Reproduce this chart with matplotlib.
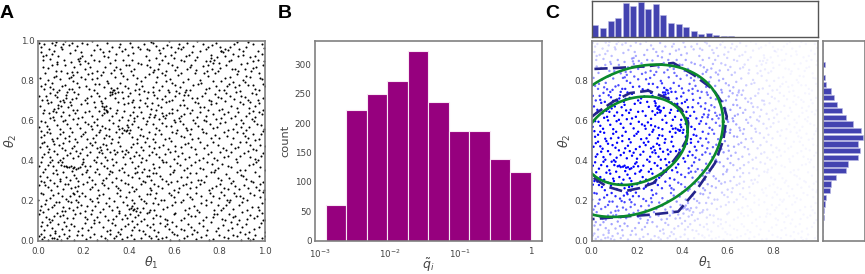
import numpy as np
import matplotlib
matplotlib.use("Agg")
import matplotlib.pyplot as plt

# sampled parameter points, estimated from panel A (theta1, theta2 in thousandths)
theta_pairs = [
    5,990, 25,985, 62,992, 75,978, 110,985, 118,998, 150,990, 172,975, 195,992, 215,985, 240,998, 262,978, 302,990,
    325,972, 362,985, 405,992, 412,970, 465,985, 500,995, 520,975, 578,998, 552,965, 620,985, 640,972, 702,998,
    725,985, 748,968, 785,990, 800,970, 838,955, 862,985, 885,962, 925,995, 985,985, 995,965, 615,965, 450,958,
    12,945, 35,930, 70,950, 88,925, 105,958, 140,940, 185,915, 190,945, 208,900, 232,930, 245,905, 285,945, 310,918,
    345,935, 372,952, 375,905, 420,938, 475,925, 490,905, 538,940, 558,925, 598,915, 603,945, 665,930, 690,905,
    760,928, 790,918, 815,945, 840,902, 858,935, 880,925, 935,918, 948,900, 985,935, 970,905, 20,905, 642,900,
    22,872, 60,880, 78,850, 82,895, 120,880, 150,845, 160,868, 205,860, 220,888, 260,850, 318,890, 335,855, 345,870,
    400,880, 425,860, 480,878, 510,855, 535,885, 565,852, 590,880, 612,870, 655,862, 675,882, 728,875, 745,850,
    770,890, 802,865, 828,880, 870,858, 895,885, 912,860, 940,850, 960,870, 992,880, 440,892, 295,868,
    8,815, 30,840, 45,805, 80,825, 95,812, 128,838, 155,800, 188,822, 222,835, 240,808, 276,830, 305,800, 340,818,
    365,840, 392,810, 420,828, 452,802, 490,835, 525,818, 548,842, 580,810, 618,830, 660,812, 692,838, 712,805,
    750,825, 780,840, 805,800, 845,818, 878,835, 905,805, 935,822, 975,838, 988,812, 238,842, 470,818,
    15,775, 28,760, 62,790, 92,755, 118,778, 148,760, 170,790, 210,772, 248,755, 270,785, 320,765, 335,752, 352,745,
    385,775, 398,762, 432,785, 468,750, 505,770, 535,752, 592,788, 625,768, 650,752, 682,778, 718,790, 755,762,
    785,775, 818,755, 842,785, 868,770, 890,750, 925,778, 958,760, 990,785, 572,755, 445,760, 310,788,
    5,725, 38,705, 52,740, 85,718, 112,702, 125,728, 150,710, 178,735, 205,702, 232,722, 262,740, 295,712, 326,732,
    338,715, 370,745, 395,722, 420,705, 445,735, 478,715, 512,730, 548,708, 575,742, 605,722, 638,705, 662,730,
    702,712, 735,738, 760,700, 795,720, 830,740, 862,708, 895,725, 925,705, 960,735, 990,715, 128,745,
    10,672, 42,690, 72,660, 90,680, 115,695, 132,668, 145,680, 172,655, 215,690, 252,670, 282,688, 290,660, 298,672,
    305,650, 318,665, 350,655, 378,685, 412,695, 445,668, 470,688, 500,660, 528,678, 565,692, 590,660, 625,680,
    655,665, 690,695, 712,670, 748,655, 785,688, 812,660, 850,675, 890,695, 928,665, 948,650, 975,688,
    22,640, 55,615, 65,650, 100,625, 120,605, 165,640, 195,620, 225,648, 262,610, 280,630, 312,605, 345,640, 368,620,
    395,605, 418,645, 435,625, 462,612, 495,632, 515,630, 545,640, 560,612, 598,605, 632,625, 668,640, 700,618,
    730,605, 772,635, 805,615, 835,645, 868,625, 895,605, 930,640, 955,618, 985,632, 78,645, 380,650,
    4,570, 30,595, 50,560, 82,580, 110,598, 140,565, 172,585, 208,595, 238,560, 262,578, 280,572, 295,565, 330,590,
    358,560, 392,580, 425,598, 440,570, 475,585, 520,565, 548,590, 585,575, 612,555, 625,598, 652,565, 690,590,
    722,560, 758,585, 790,570, 825,595, 860,558, 905,590, 930,570, 965,585, 995,560, 405,555, 312,558,
    15,520, 38,545, 60,510, 95,535, 118,515, 150,545, 188,525, 218,508, 255,530, 292,512, 312,525, 345,545, 370,540,
    390,552, 415,520, 450,530, 490,545, 505,510, 540,535, 575,515, 610,540, 642,520, 680,508, 725,545, 760,515,
    780,530, 820,545, 858,512, 905,540, 925,515, 948,535, 975,510, 990,548, 205,545, 655,552,
    8,470, 28,495, 48,460, 72,485, 105,465, 135,498, 160,475, 195,458, 230,490, 250,495, 272,470, 288,485, 302,460,
    322,490, 360,472, 388,455, 420,485, 455,470, 470,495, 510,462, 550,480, 588,498, 628,470, 660,490, 690,458,
    745,478, 772,495, 815,465, 852,485, 880,470, 918,495, 945,460, 978,480, 335,455, 120,452, 605,450,
    18,420, 42,445, 60,405, 82,432, 110,415, 142,440, 178,425, 200,410, 228,445, 258,420, 282,438, 305,405, 338,432,
    375,418, 395,445, 425,425, 445,428, 475,405, 502,442, 532,418, 560,432, 600,410, 635,440, 665,420, 710,405,
    748,435, 775,415, 800,442, 835,425, 872,408, 908,438, 935,420, 968,405, 990,440, 185,440,
    5,375, 32,360, 52,395, 78,352, 122,375, 138,370, 152,365, 168,358, 185,370, 192,385, 218,352, 255,395, 290,375,
    318,350, 342,392, 372,365, 412,395, 442,375, 468,358, 505,385, 535,370, 565,392, 598,355, 625,378, 655,362,
    692,392, 728,358, 765,385, 795,365, 838,375, 875,395, 912,355, 945,382, 980,368, 105,395, 205,372,
    10,325, 25,295, 65,340, 95,310, 108,345, 158,330, 175,298, 212,345, 240,305, 268,335, 298,315, 328,345, 365,305,
    395,330, 438,345, 462,300, 478,325, 518,340, 548,310, 580,332, 612,298, 655,320, 695,338, 720,305, 762,345,
    792,315, 828,335, 858,300, 895,328, 918,310, 955,342, 992,295, 445,315, 140,305, 500,305,
    5,280, 45,268, 72,290, 110,258, 132,285, 165,268, 172,250, 200,282, 230,260, 280,290, 310,262, 345,275, 362,255,
    382,290, 412,268, 455,285, 500,252, 530,272, 572,285, 600,255, 640,278, 668,262, 712,285, 752,255, 785,275,
    820,265, 852,290, 885,258, 908,280, 960,270, 980,285, 995,252, 672,295, 425,250, 250,285,
    2,205, 22,235, 55,215, 88,238, 125,210, 142,225, 168,205, 182,222, 195,240, 228,208, 270,228, 312,212, 350,238,
    388,220, 415,205, 480,235, 515,215, 555,205, 575,240, 600,218, 655,232, 680,208, 718,225, 758,240, 798,215,
    818,230, 848,205, 872,222, 905,212, 935,238, 978,218, 992,242, 640,205, 452,208,
    8,155, 30,185, 60,168, 92,195, 118,150, 138,165, 152,155, 190,180, 205,150, 252,175, 298,190, 325,155, 348,168,
    375,195, 402,160, 418,155, 432,150, 448,142, 462,165, 510,155, 530,185, 570,170, 605,192, 648,155, 688,172,
    718,190, 775,155, 795,178, 815,165, 842,195, 885,180, 920,152, 968,170, 988,188, 382,130, 775,135,
    3,135, 35,120, 62,105, 85,140, 128,115, 165,132, 215,110, 232,135, 258,118, 275,142, 308,105, 345,125, 370,110,
    405,135, 428,120, 455,100, 478,138, 508,115, 538,125, 570,105, 605,140, 645,115, 690,125, 725,105, 770,120,
    812,110, 842,135, 868,125, 885,105, 935,130, 952,115, 985,138, 1000,105, 660,135, 95,125,
    12,75, 28,55, 52,92, 75,50, 105,60, 125,72, 145,85, 192,62, 222,55, 245,88, 288,70, 315,55, 338,78, 365,60,
    398,85, 425,68, 445,52, 478,78, 512,55, 538,90, 578,60, 610,75, 642,52, 672,70, 708,88, 745,55, 795,65,
    838,52, 878,85, 900,70, 950,60, 982,88, 850,92, 570,82,
    5,25, 18,8, 42,3, 60,12, 85,8, 100,3, 138,25, 160,5, 195,30, 228,18, 262,5, 295,15, 318,35, 345,22, 372,8,
    410,30, 452,12, 488,25, 530,8, 562,18, 598,32, 620,5, 658,22, 695,10, 738,30, 772,8, 820,18, 858,28, 895,5,
    925,15, 932,2, 955,30, 985,12, 700,42, 75,38, 590,42,
]

# second pass over the crops, picks up the clumps and streaks
theta_pairs_extra = [
    # upper left
    15,972, 48,962, 78,995, 102,968, 135,982, 162,955, 182,898, 178,912, 186,885, 195,925, 245,955, 272,960, 312,948,
    355,972, 385,958, 395,930, 440,972, 478,962, 22,925, 52,910, 60,935, 85,885, 115,905, 145,895, 228,870, 268,902,
    292,925, 338,905, 362,860, 388,882, 415,905, 455,885, 488,955, 42,865, 72,822, 100,848, 138,815, 146,818, 155,830,
    172,845, 205,808, 258,815, 285,845, 320,842, 375,825, 410,850, 438,815, 495,868, 32,785, 55,768, 68,758, 82,745,
    105,772, 135,760, 158,742, 182,770, 225,758, 252,785, 290,768, 315,742, 324,742, 330,755, 318,728, 338,738, 348,762,
    362,790, 405,740, 428,752, 458,775, 485,745, 18,702, 35,725, 58,695, 75,728, 95,700, 102,672, 122,712, 142,695,
    168,715, 190,685, 218,712, 245,695, 268,725, 282,675, 292,667, 298,655, 302,642, 290,640, 278,698, 352,692, 375,712,
    398,688, 425,668, 448,705, 482,672, 25,655, 48,638, 68,620, 88,662, 112,642, 135,628, 152,652, 178,612, 205,645,
    238,625, 268,648, 325,625, 358,605, 405,628, 425,612, 452,645, 488,618, 15,598, 38,575, 72,602, 95,558, 128,585,
    155,608, 185,562, 222,582, 234,575, 248,592, 272,555, 352,575, 370,562, 380,556, 387,550, 395,568, 415,585, 455,558,
    482,598, 12,548, 28,530, 55,540, 85,512, 108,545, 135,525, 165,508, 198,535, 242,512, 268,545, 298,528, 325,508,
    355,520, 402,540, 438,508, 462,525, 480,512,
    # lower left
    18,488, 38,472, 65,498, 92,478, 112,490, 148,462, 172,492, 212,470, 238,478, 262,462, 278,452, 298,478, 315,445,
    352,495, 372,448, 408,468, 438,490, 462,452, 488,475, 25,432, 52,418, 72,448, 98,402, 128,428, 155,412, 168,448,
    215,430, 245,405, 268,442, 295,420, 325,408, 348,445, 385,432, 405,412, 432,445, 458,415, 488,430, 15,392, 42,378,
    68,372, 88,395, 100,378, 115,372, 128,368, 145,375, 160,367, 175,362, 198,392, 228,375, 262,358, 278,388, 305,362,
    330,378, 355,352, 382,382, 428,362, 452,392, 488,352, 20,342, 38,318, 55,305, 82,335, 122,318, 148,348, 168,312,
    192,335, 225,318, 252,345, 285,305, 312,335, 345,312, 378,342, 412,318, 428,338, 458,345, 490,325, 12,298, 32,278,
    58,252, 85,275, 98,298, 118,282, 145,262, 155,240, 178,272, 215,295, 238,268, 265,252, 292,278, 325,295, 352,262,
    395,282, 432,258, 472,292, 492,262, 12,238, 35,205, 68,228, 78,195, 105,222, 132,198, 158,232, 175,192, 208,222,
    240,198, 262,212, 285,235, 335,198, 362,225, 400,242, 425,188, 445,225, 465,198, 492,232, 15,172, 42,158, 72,178,
    105,148, 112,170, 145,192, 172,168, 218,172, 238,152, 265,192, 285,158, 312,175, 358,148, 392,178, 410,165, 424,158,
    415,175, 438,162, 475,188, 492,152, 22,142, 48,108, 72,125, 108,128, 152,112, 185,138, 205,118, 248,102, 295,125,
    332,108, 358,138, 390,112, 412,98, 442,128, 468,108, 488,142, 18,92, 38,78, 62,62, 88,82, 115,95, 135,52, 158,72,
    178,48, 208,88, 235,68, 268,92, 302,48, 325,88, 352,42, 382,72, 412,55, 435,82, 462,48, 495,68, 12,35, 28,18,
    52,28, 72,15, 92,22, 115,35, 128,12, 172,28, 212,8, 248,32, 278,22, 305,5, 335,12, 362,32, 392,18, 425,8, 472,32, 498,15,
    # upper right
    508,988, 532,955, 568,982, 588,968, 632,958, 655,990, 682,975, 712,952, 738,962, 768,978, 808,950, 822,958, 848,972,
    875,995, 902,948, 918,972, 945,985, 968,952, 518,915, 545,905, 572,888, 585,932, 628,905, 652,925, 678,945, 702,918,
    742,900, 756,900, 762,915, 750,882, 775,905, 807,950, 822,925, 798,892, 852,905, 905,932, 922,888, 958,925, 995,900,
    505,845, 528,862, 558,832, 602,855, 632,842, 668,868, 695,855, 732,838, 765,858, 792,848, 825,815, 855,862, 882,848,
    918,825, 948,865, 978,815, 518,795, 545,775, 562,802, 605,778, 638,795, 668,752, 705,785, 738,758, 772,802, 798,752,
    832,772, 858,795, 885,778, 912,792, 945,778, 972,752, 998,772, 508,742, 525,715, 558,725, 592,702, 610,750, 622,738,
    642,728, 648,742, 678,712, 722,725, 752,702, 778,735, 808,712, 848,725, 872,745, 912,718, 942,738, 968,705, 502,688,
    518,652, 542,668, 578,698, 612,655, 642,678, 678,655, 705,688, 732,668, 762,682, 798,652, 825,698, 875,665, 902,682,
    935,695, 958,672, 992,652, 512,618, 532,608, 552,625, 566,630, 578,640, 590,638, 622,612, 645,632, 682,605, 715,642,
    742,622, 782,608, 818,632, 852,612, 882,645, 915,622, 942,608, 972,645, 505,585, 532,555, 565,575, 602,595, 638,582,
    672,558, 705,575, 738,598, 772,562, 802,588, 838,552, 872,582, 895,568, 918,552, 952,598, 982,578, 515,535, 558,508,
    592,545, 628,522, 668,535, 705,512, 742,538, 798,512, 832,525, 878,545, 912,522, 958,505, 982,532,
    # lower right
    515,492, 535,468, 572,458, 602,475, 648,482, 675,468, 712,495, 732,462, 792,478, 828,452, 868,462, 892,495, 932,478,
    962,452, 998,475, 522,435, 548,405, 582,442, 615,425, 648,408, 695,432, 725,415, 762,442, 788,405, 818,418, 852,445,
    888,422, 925,448, 955,408, 982,425, 512,362, 552,395, 582,372, 612,388, 642,352, 672,378, 712,362, 745,392, 778,355,
    812,382, 852,368, 892,352, 928,378, 962,392, 998,352, 508,338, 538,322, 562,298, 595,345, 628,318, 668,338, 705,302,
    738,325, 775,342, 808,305, 842,312, 878,342, 905,322, 938,298, 972,325, 512,282, 548,265, 588,292, 622,262, 652,285,
    695,268, 732,292, 768,262, 802,282, 835,258, 868,272, 925,265, 945,292, 975,255, 522,238, 542,205, 585,228, 618,242,
    668,218, 698,238, 738,205, 772,225, 808,242, 832,205, 862,238, 892,225, 922,205, 952,228, 998,208, 505,188, 552,158,
    592,178, 628,192, 665,165, 702,155, 738,178, 762,192, 808,152, 828,178, 858,158, 898,192, 942,168, 975,152, 522,128,
    558,108, 598,132, 628,105, 672,122, 708,142, 742,118, 788,132, 822,102, 858,118, 898,142, 922,108, 965,125, 992,102,
    508,82, 528,45, 558,72, 592,92, 628,58, 662,82, 688,52, 728,72, 762,92, 782,48, 815,78, 855,62, 892,42, 918,82, 928,45,
    972,68, 998,42, 518,25, 548,12, 582,5, 612,28, 642,15, 678,32, 718,18, 752,5, 798,28, 835,12, 878,22, 912,35, 948,8, 998,22,
]
theta = np.array(theta_pairs + theta_pairs_extra).reshape(-1, 2) / 1000

# panel B histogram
q_counts = [61, 223, 250, 271, 322, 235, 187, 186, 138, 117]
q_first_exp = -2.91
q_last_exp = 0.0

# panel C marginals, 30 bins over [0, 1]
theta1_hist = [37, 28, 49, 58, 102, 94, 104, 83, 99, 66, 43, 40, 30, 19, 9, 12, 7, 4, 4]
theta2_hist = [0, 0, 0, 3, 4, 7, 10, 21, 25, 38, 66, 72, 103, 108, 102, 116, 112, 87, 67, 55,
               40, 32, 25, 10, 7, 2, 6, 2, 2, 2]

# contours
gauss_center = (0.19, 0.50)
inner_sd = (0.2335, 0.2215, 0.21)
outer_sd = (0.39, 0.382, 0.25)
dash_outer_x = [0.012, .110, .243, .360, .449, .537, .581, .596, .581, .544, .463, .382, .257, .140, 0]
dash_outer_y = [.860, .865, .873, .890, .831, .756, .681, .622, .505, .388, .254, .145, .129, .120, .107]
dash_inner_x = [0, .022, .096, .169, .250, .331, .397, .426, .419, .382, .331, .272, .213, .140, .066, 0]
dash_inner_y = [.62, .640, .697, .739, .751, .714, .656, .590, .505, .430, .355, .288, .263, .246, .271, .32]

W, H = 865, 274
GRAY = "#808080"
TXT = "#444444"


def place(left, top, right, bottom):
    return fig.add_axes([left / W, 1 - bottom / H, (right - left) / W, (bottom - top) / H])


def style(ax, color=GRAY, lw=1.2):
    for s in ax.spines.values():
        s.set_color(color)
        s.set_linewidth(lw)
    ax.tick_params(length=0, labelsize=6.3, labelcolor=TXT, pad=2.5)
    ax.tick_params(axis="x", pad=5)


def ellipse(sx, sy, rho):
    t = np.linspace(0, 2 * np.pi, 300)
    x = gauss_center[0] + sx * np.cos(t)
    y = gauss_center[1] + sy * (rho * np.cos(t) + np.sqrt(1 - rho ** 2) * np.sin(t))
    return x, y


fig = plt.figure(figsize=(W / 100, H / 100), dpi=100)

# A
ax = place(38, 41, 265, 240.5)
ax.scatter(theta[:, 0], theta[:, 1], s=2.2, c="k", linewidths=0)
ax.set_xlim(0, 1)
ax.set_ylim(0, 1)
ax.set_xlabel(r"$\theta_1$", fontsize=9, color=TXT, labelpad=-1)
ax.set_ylabel(r"$\theta_2$", fontsize=9, color=TXT, labelpad=1)
style(ax)

# B
ax = place(315, 41, 541.7, 240.5)
edges = np.logspace(q_first_exp, q_last_exp, len(q_counts) + 1)
ax.bar(edges[:-1], q_counts, width=np.diff(edges), align="edge", color="#96007e", edgecolor="#f8e8f4", linewidth=0.8)
ax.set_xscale("log")
ax.set_xlim(10 ** -3.064, 10 ** 0.157)
ax.set_ylim(0, 339.7)
ax.set_xticks([1e-3, 1e-2, 1e-1, 1])
ax.set_xticklabels(["$10^{-3}$", "$10^{-2}$", "$10^{-1}$", "1"])
ax.minorticks_off()
ax.set_xlabel(r"$\tilde{q}_i$", fontsize=9, color=TXT, labelpad=-2)
ax.set_ylabel("count", fontsize=8.2, color=TXT, labelpad=3)
style(ax)

# C
ax = place(591.7, 41, 818.3, 240.5)
rho = inner_sd[2]
dx = (theta[:, 0] - gauss_center[0]) / inner_sd[0]
dy = (theta[:, 1] - gauss_center[1]) / inner_sd[1]
d2 = (dx ** 2 - 2 * rho * dx * dy + dy ** 2) / (1 - rho ** 2)
alpha = np.clip(1.6 * np.exp(-0.5 * d2 / 1.1 ** 2), 0.04, 1)
colors = np.zeros((len(theta), 4))
colors[:, 2] = 1
colors[:, 3] = alpha
ax.scatter(theta[:, 0], theta[:, 1], s=3, c=colors, linewidths=0)
ax.plot(dash_outer_x, dash_outer_y, color="#24248c", lw=1.9, ls=(0, (5, 2)))
ax.plot(dash_inner_x, dash_inner_y, color="#24248c", lw=1.9, ls=(0, (5, 2)))
for sd in (inner_sd, outer_sd):
    ax.plot(*ellipse(*sd), color="#0b8a2b", lw=1.9)
ax.set_xlim(0, 1)
ax.set_ylim(0, 1)
ax.set_xticks([0, 0.2, 0.4, 0.6, 0.8])
ax.set_yticks([0, 0.2, 0.4, 0.6, 0.8])
ax.set_xlabel(r"$\theta_1$", fontsize=9, color=TXT, labelpad=-1)
ax.set_ylabel(r"$\theta_2$", fontsize=9, color=TXT, labelpad=1)
style(ax)

bins = np.arange(31) / 30

top = place(591.7, 0.5, 818.3, 37)
top.bar(bins[:len(theta1_hist)] + 0.1 / 30, theta1_hist, width=0.8 / 30, align="edge", color="#4343b0", edgecolor="#b8b8e4", linewidth=0.4)
top.set_xlim(0, 1)
top.set_ylim(0, 110)
top.set_xticks([])
top.set_yticks([])
style(top, color="#555555", lw=1)

right = place(822.7, 41, 864.5, 240.5)
right.barh(bins[:len(theta2_hist)] + 0.1 / 30, theta2_hist, height=0.8 / 30, align="edge", color="#4343b0", edgecolor="#b8b8e4", linewidth=0.4)
right.set_ylim(0, 1)
right.set_xlim(0, 121)
right.set_xticks([])
right.set_yticks([])
style(right)

for label, x in (("A", 0), ("B", 278), ("C", 545)):
    fig.text(x / W, 1 - 18 / H, label, fontsize=14, fontweight="bold", family="Liberation Sans", color="k")

fig.savefig("out.png", dpi=100)
